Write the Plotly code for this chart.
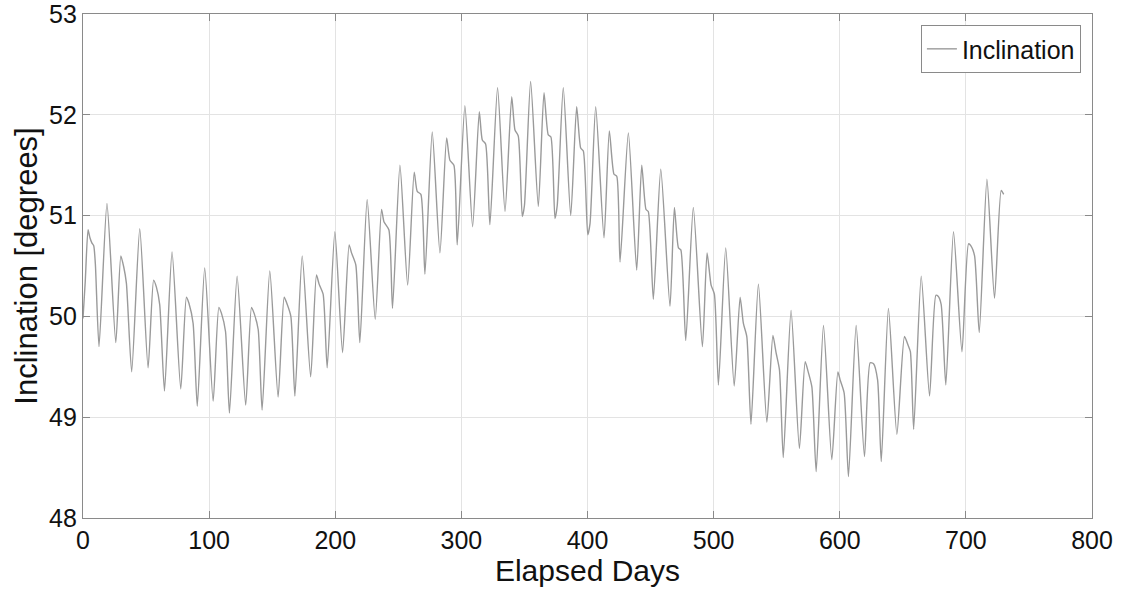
import plotly.graph_objects as go

days = [0, 1.8, 4, 5.5, 7, 8.5, 9.8, 12.7, 19, 26, 30, 32.3, 34.4, 38.6, 45, 51.6, 56, 58.2, 60.8, 64.6,
        70.6, 77.5, 82, 84, 87.3, 90.6, 96.5, 103.2, 107.7, 109.8, 113, 116.1, 122.2, 129, 133.6, 135.7,
        138.9, 142, 148.1, 154.7, 159.5, 161.6, 164.8, 168, 173.8, 180.5, 185.1, 187.2, 190.4, 193.6,
        199.7, 205.8, 211, 212.9, 216.3, 219.5, 225.3, 231.7, 236.7, 238.6, 242.5, 245.4, 251.3, 257.4,
        262.6, 265, 267.9, 271.1, 276.9, 283, 288.3, 290.9, 294.1, 296.7, 302.8, 308.9, 314.2, 316.6,
        319.2, 322.6, 328.7, 334.6, 339.9, 342.5, 345.1, 348.3, 350, 354.9, 361, 365.5, 368.9, 371,
        374.2, 376, 380.8, 386.7, 391.4, 394.6, 396.7, 400.2, 402, 406.5, 413.1, 417.3, 421, 423.2,
        425.8, 432.4, 439, 443, 446.4, 448.2, 452.2, 458.1, 465.4, 468.9, 472.1, 474, 477.9, 483.9,
        491.1, 494.8, 498, 500.6, 503.8, 509.6, 516.3, 521, 523.6, 526.3, 529.6, 535.5, 542.2, 547,
        549.5, 552.2, 555.2, 561.4, 568, 572.6, 575.2, 577.9, 581.3, 587.1, 593.7, 598.5, 600.3, 603.5,
        606.9, 613, 619.6, 624.1, 626.8, 630, 632.9, 638.6, 645.3, 651.3, 654, 656, 658.6, 664.6, 671.2,
        676.2, 678, 680.4, 684.1, 690.2, 696.9, 702.1, 704, 706.9, 710.6, 716.7, 722.7, 728, 730]

inclination = [49.98, 50.35, 50.86, 50.78, 50.73, 50.70, 50.52, 49.70, 51.12, 49.74, 50.60, 50.49, 50.33,
               49.45, 50.87, 49.49, 50.36, 50.29, 50.12, 49.26, 50.64, 49.28, 50.19, 50.13, 49.93, 49.11,
               50.48, 49.16, 50.09, 50.03, 49.85, 49.04, 50.40, 49.12, 50.09, 50.03, 49.87, 49.07, 50.45,
               49.20, 50.19, 50.13, 50.00, 49.21, 50.60, 49.40, 50.41, 50.32, 50.22, 49.49, 50.84, 49.64,
               50.71, 50.63, 50.51, 49.74, 51.16, 49.97, 51.06, 50.94, 50.86, 50.08, 51.50, 50.31, 51.43,
               51.24, 51.21, 50.42, 51.83, 50.63, 51.77, 51.55, 51.50, 50.71, 52.09, 50.89, 52.03, 51.75,
               51.71, 50.91, 52.27, 51.04, 52.18, 51.85, 51.79, 50.99, 51.10, 52.33, 51.09, 52.22, 51.80,
               51.78, 50.97, 51.10, 52.27, 51.00, 52.08, 51.67, 51.64, 50.81, 50.92, 52.08, 50.78, 51.84,
               51.41, 51.39, 50.54, 51.82, 50.46, 51.50, 51.06, 51.04, 50.17, 51.46, 50.10, 51.08, 50.68,
               50.66, 49.76, 51.08, 49.70, 50.63, 50.31, 50.22, 49.32, 50.68, 49.31, 50.19, 49.93, 49.80,
               48.93, 50.32, 48.95, 49.81, 49.64, 49.47, 48.60, 50.06, 48.69, 49.55, 49.44, 49.30, 48.46,
               49.91, 48.58, 49.45, 49.37, 49.24, 48.41, 49.91, 48.61, 49.54, 49.53, 49.37, 48.56, 50.08,
               48.83, 49.80, 49.72, 49.65, 48.88, 50.40, 49.21, 50.21, 50.20, 50.12, 49.32, 50.84, 49.65,
               50.72, 50.70, 50.60, 49.84, 51.36, 50.18, 51.25, 51.21]

x_ticks = [0, 100, 200, 300, 400, 500, 600, 700, 800]
y_ticks = [48, 49, 50, 51, 52, 53]

FONT = "Liberation Sans, Arial, sans-serif"

fig = go.Figure()
fig.add_trace(go.Scatter(x=days, y=inclination, mode="lines", name="Inclination",
                         line=dict(color="#9a9a9a", width=1.4, shape="spline", smoothing=0.6)))

axis_common = dict(showline=True, linecolor="#8a8a8a", linewidth=1.2, mirror="ticks",
                   ticks="inside", ticklen=7, tickcolor="#8a8a8a", tickwidth=1,
                   showgrid=True, gridcolor="#e3e3e3", gridwidth=1, zeroline=False,
                   ticklabeloverflow="allow", automargin=False,
                   tickfont=dict(family=FONT, size=25, color="#111111"))

fig.update_xaxes(range=[0, 800], tickvals=x_ticks, ticktext=[str(v) for v in x_ticks],
                 title=dict(text="Elapsed Days", font=dict(family=FONT, size=30, color="#111111"), standoff=2),
                 **axis_common)
fig.update_yaxes(range=[48, 53], tickvals=y_ticks, ticktext=[str(v) for v in y_ticks],
                 title=dict(text="Inclination [degrees]", font=dict(family=FONT, size=31, color="#111111"), standoff=2),
                 **axis_common)

fig.update_layout(
    width=1121, height=603,
    margin=dict(l=83, r=29, t=14, b=85, autoexpand=False),
    paper_bgcolor="white", plot_bgcolor="white",
    showlegend=True,
    legend=dict(x=0.989, y=0.978, xanchor="right", yanchor="top",
                bgcolor="white", bordercolor="#8a8a8a", borderwidth=1,
                font=dict(family=FONT, size=25, color="#111111"),
                itemwidth=30, tracegroupgap=0),
)

fig.write_html("out.html")
